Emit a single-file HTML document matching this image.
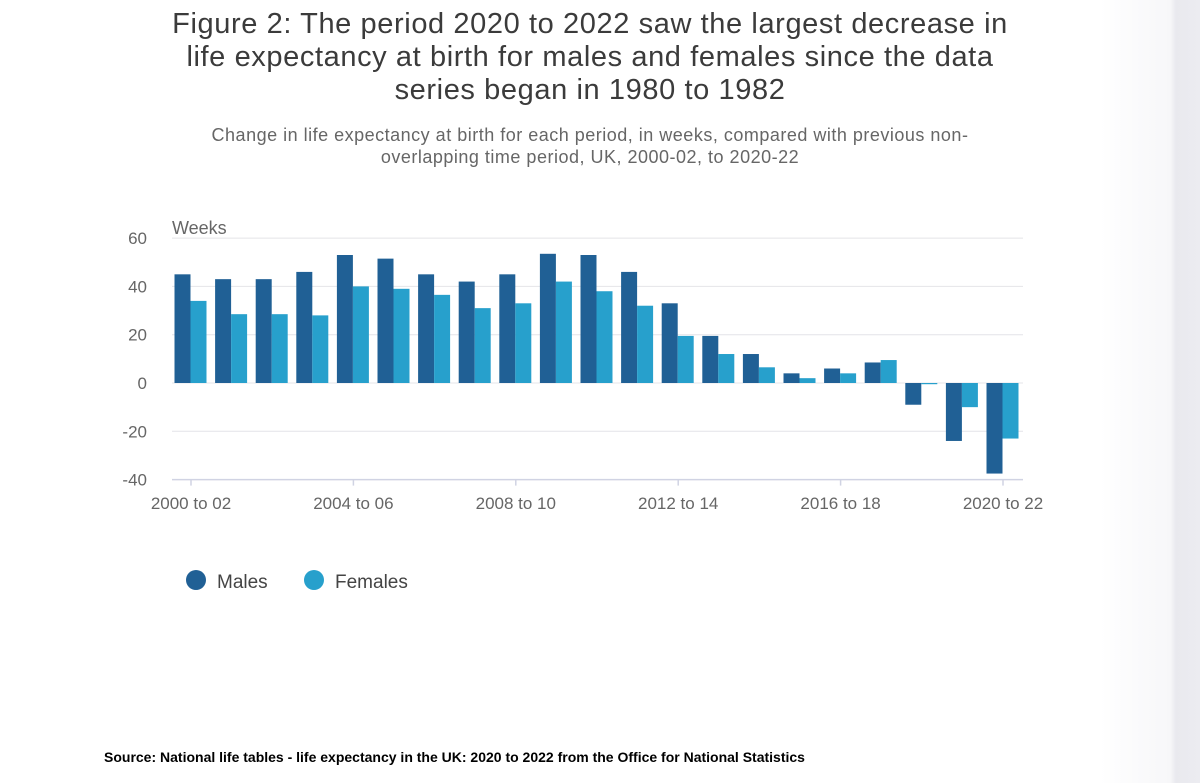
<!DOCTYPE html>
<html><head><meta charset="utf-8"><style>
body{margin:0;width:1200px;height:783px;overflow:hidden;background:linear-gradient(90deg,#fff 0,#fff 1100px,#f7f7f9 1170px,#e9e9ee 1176px,#ececf1 1200px);font-family:"Liberation Sans",sans-serif;}
.t{position:absolute;left:0;width:1180px;text-align:center;color:#333;}
</style></head><body>
<div class="t" style="top:8px;font-size:29px;line-height:33px;letter-spacing:0.6px;color:#3b3b3b">Figure 2: The period 2020 to 2022 saw the largest decrease in<br>life expectancy at birth for males and females since the data<br>series began in 1980 to 1982</div>
<div class="t" style="top:124px;font-size:18px;line-height:22px;letter-spacing:0.5px;color:#666">Change in life expectancy at birth for each period, in weeks, compared with previous non-<br>overlapping time period, UK, 2000-02, to 2020-22</div>
<svg id="c" width="1200" height="783" style="position:absolute;left:0;top:0"></svg>
<div style="position:absolute;left:104px;top:749px;font-size:14px;font-weight:bold;color:#000">Source: National life tables - life expectancy in the UK: 2020 to 2022 from the Office for National Statistics</div>
<script>
const categories=["2000 to 02","2001 to 03","2002 to 04","2003 to 05","2004 to 06","2005 to 07","2006 to 08","2007 to 09","2008 to 10","2009 to 11","2010 to 12","2011 to 13","2012 to 14","2013 to 15","2014 to 16","2015 to 17","2016 to 18","2017 to 19","2018 to 20","2019 to 21","2020 to 22"];
const males=[45,43,43,46,53,51.5,45,42,45,53.5,53,46,33,19.5,12,4,6,8.5,-9,-24,-37.5];
const females=[34,28.5,28.5,28,40,39,36.5,31,33,42,38,32,19.5,12,6.5,2,4,9.5,-0.5,-10,-23];
const yTicks=[60,40,20,0,-20,-40];
const xLabelIdx=[0,4,8,12,16,20];
const NS="http://www.w3.org/2000/svg",svg=document.getElementById('c');
function y(v){return 383-v*2.415;}
function xc(i){return 191+i*40.6;}
function mk(t,a,txt){const e=document.createElementNS(NS,t);for(const k in a)e.setAttribute(k,a[k]);if(txt!=null)e.textContent=txt;svg.appendChild(e);return e;}
yTicks.forEach(v=>{
 if(v!==-40){const g=mk('line',{x1:172,x2:1023,y1:y(v),y2:y(v),stroke:'#e4e4e8','stroke-width':1});
 
 }
 const t=mk('text',{x:147,y:y(v)+6,'text-anchor':'end','font-size':17,fill:'#666','font-family':'Liberation Sans, sans-serif'},String(v));
 
 
});
const yt=mk('text',{x:172,y:234,'font-size':18,fill:'#666','font-family':'Liberation Sans, sans-serif'},'Weeks');


categories.forEach((c,i)=>{
 const m=males[i],f=females[i];
 const r1=mk('rect',{x:xc(i)-16.5,y:Math.min(y(m),y(0)),width:16,height:Math.abs(y(m)-y(0)),fill:'#206095'});
 
 
 const r2=mk('rect',{x:xc(i)-0.5,y:Math.min(y(f),y(0)),width:16,height:Math.max(1,Math.abs(y(f)-y(0))),fill:'#27a0cc'});
 
 
});
const ax=mk('line',{x1:172,x2:1023,y1:y(-40),y2:y(-40),stroke:'#d0d3e3','stroke-width':1.5});


xLabelIdx.forEach(i=>{
 const tk=mk('line',{x1:xc(i),x2:xc(i),y1:y(-40),y2:y(-40)+6,stroke:'#d0d3e3','stroke-width':1.5});
 
 
 const t=mk('text',{x:xc(i),y:509,'text-anchor':'middle','font-size':17,fill:'#666','font-family':'Liberation Sans, sans-serif'},categories[i]);
 
 
});
[['Males','#206095',196],['Females','#27a0cc',314]].forEach(([n,col,x])=>{
 const c=mk('circle',{cx:x,cy:580,r:10,fill:col});
 
 
 const t=mk('text',{x:x+21,y:588,'font-size':19,fill:'#444','font-family':'Liberation Sans, sans-serif'},n);
 
 
});
</script>
</body></html>
